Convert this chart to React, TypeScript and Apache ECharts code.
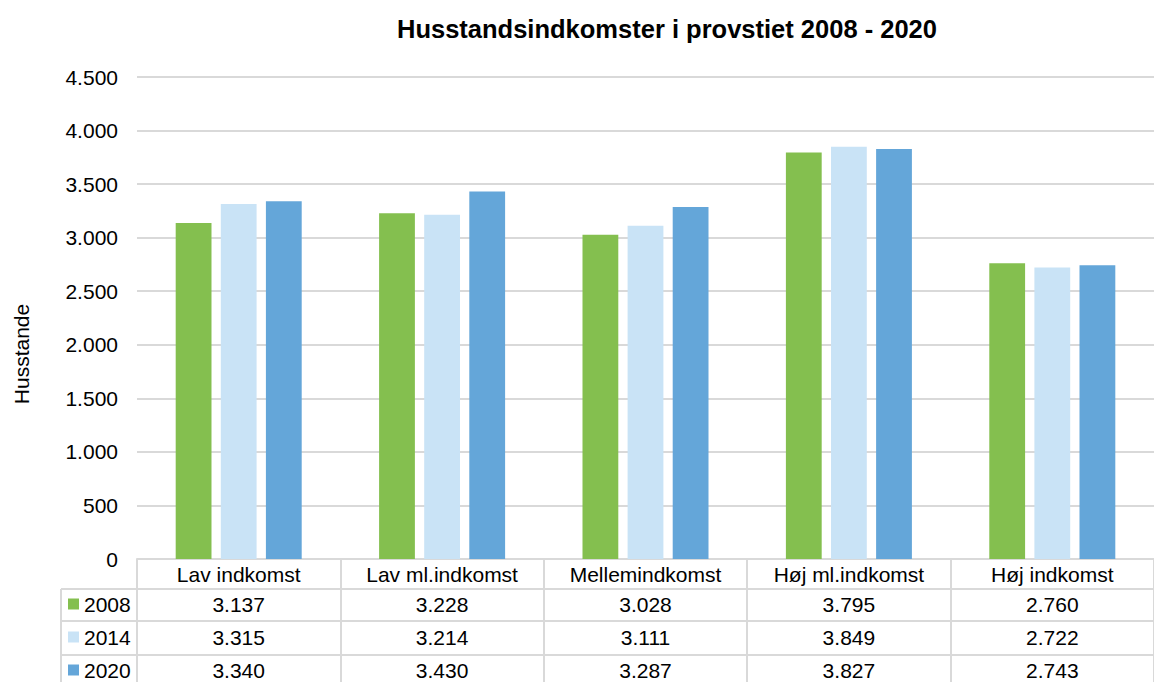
import React, { useEffect, useRef } from "react";
import * as echarts from "echarts";

const categories = ["Lav indkomst", "Lav ml.indkomst", "Mellemindkomst", "Høj ml.indkomst", "Høj indkomst"];
const years = ["2008", "2014", "2020"];
const values2008 = [3137, 3228, 3028, 3795, 2760];
const values2014 = [3315, 3214, 3111, 3849, 2722];
const values2020 = [3340, 3430, 3287, 3827, 2743];
const colors = ["#84BF4F", "#C9E3F6", "#64A6D9"];
const yTicks = { min: 0, max: 4500, interval: 500 };

const fmt = (v: number) => {
  const s = String(Math.round(v));
  return s.replace(/\B(?=(\d{3})+(?!\d))/g, ".");
};

const FONT = "Liberation Sans, Arial, sans-serif";

export default function App() {
  const ref = useRef<HTMLDivElement>(null);
  useEffect(() => {
    if (!ref.current) return;
    const chart = echarts.init(ref.current, undefined, { renderer: "svg" });
    const gridLeft = 137;
    const gridTop = 77;
    const gridWidth = 1029;
    const gridHeight = 482;
    const tableLeft = 61;
    const rowLines = [589, 621, 655];
    const rowOffsets = [31, 64, 97];
    const rowCenters = [604, 637, 670];
    const allValues = [values2008, values2014, values2020];
    const lineColor = "#D9D9D9";
    const fs = 21;

    const xAxes: any[] = [
      {
        type: "category",
        data: categories,
        position: "bottom",
        axisLine: { show: true, lineStyle: { color: lineColor, width: 2 } },
        axisTick: { show: true, interval: 0, length: 123, lineStyle: { color: lineColor, width: 2 } },
        axisLabel: { color: "#000", fontSize: fs, fontFamily: FONT, margin: 5, interval: 0 },
      },
      ...allValues.map((vals, i) => ({
        type: "category",
        data: vals.map(fmt),
        position: "bottom",
        offset: rowOffsets[i],
        axisLine: { show: false },
        axisTick: { show: false },
        axisLabel: { color: "#000", fontSize: fs, fontFamily: FONT, margin: 4, interval: 0 },
      })),
    ];

    const graphics: any[] = [
      ...rowLines.map((y) => ({
        type: "line",
        shape: { x1: tableLeft, y1: y, x2: gridLeft + gridWidth, y2: y },
        style: { stroke: lineColor, lineWidth: 2 },
        silent: true,
      })),
      {
        type: "line",
        shape: { x1: tableLeft, y1: rowLines[0], x2: tableLeft, y2: 700 },
        style: { stroke: lineColor, lineWidth: 2 },
        silent: true,
      },
      {
        type: "text",
        x: 21,
        y: 354,
        rotation: Math.PI / 2,
        style: {
          text: "Husstande",
          fontSize: fs,
          fontFamily: FONT,
          fill: "#000",
          align: "center",
          verticalAlign: "middle",
        },
        silent: true,
      },
    ];

    const legends = years.map((y, i) => ({
      orient: "vertical",
      left: 68,
      top: rowCenters[i] - 12,
      padding: 0,
      itemWidth: 11,
      itemHeight: 11,
      icon: "rect",
      data: [y],
      textStyle: { fontSize: fs, color: "#000", fontFamily: FONT, lineHeight: 24 },
    }));

    chart.setOption({
      animation: false,
      textStyle: { fontFamily: FONT },
      title: {
        text: "Husstandsindkomster i provstiet 2008 - 2020",
        left: 392,
        top: 11,
        textStyle: { fontSize: 25.5, fontWeight: "bold", color: "#000", fontFamily: FONT },
      },
      legend: legends,
      grid: { left: gridLeft, top: gridTop, width: gridWidth, height: gridHeight, containLabel: false },
      xAxis: xAxes,
      yAxis: {
        type: "value",
        min: yTicks.min,
        max: yTicks.max,
        interval: yTicks.interval,
        axisLine: { show: false },
        axisTick: { show: false },
        axisLabel: { color: "#000", fontSize: fs, fontFamily: FONT, margin: 19, formatter: (v: number) => fmt(v) },
        splitLine: { lineStyle: { color: lineColor, width: 2 } },
      },
      series: allValues.map((vals, i) => ({
        name: years[i],
        type: "bar",
        xAxisIndex: 0,
        data: vals,
        barWidth: "17.6%",
        barGap: "26%",
        itemStyle: { color: colors[i] },
      })),
      graphic: graphics,
    });
    return () => chart.dispose();
  }, []);
  return (
    <div
      ref={ref}
      style={{ position: "fixed", left: 0, top: 0, width: 1154, height: 682, background: "#fff" }}
    />
  );
}
